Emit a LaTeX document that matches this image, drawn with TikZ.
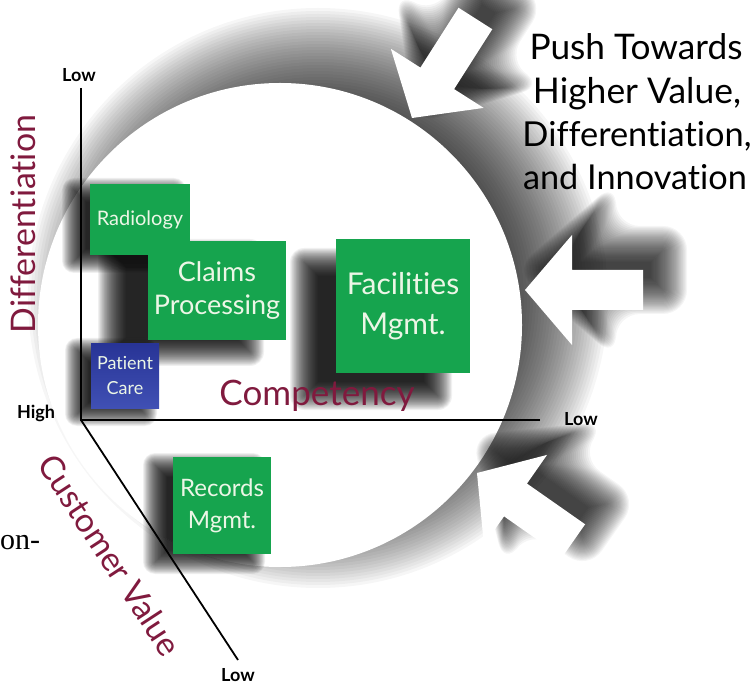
\documentclass[tikz,border=0pt]{standalone}
\usepackage{fontspec}
\setmainfont{Lato}[Ligatures=NoCommon]
\newfontfamily\bookserif{Liberation Serif}
\usepackage{graphicx}

\definecolor{boxgreen}{RGB}{22,164,78}
\definecolor{boxblue}{RGB}{64,80,180}
\definecolor{boxbluedark}{RGB}{40,52,150}
\definecolor{axisword}{RGB}{128,26,62}
\definecolor{boxtext}{RGB}{236,246,230}

% blurred shadows built from stacked, slightly grown copies of a shape
% rectangle: x1, y1, x2, y2, blur radius, opacity per layer
\newcommand\softrect[6]{%
  \foreach \k in {0,...,32}{%
    \pgfmathsetmacro\dd{#5*(\k/16-1)}%
    \fill[black, fill opacity=#6, rounded corners={max(\dd,0.1)}]
      ({#1-(\dd)},{#2-(\dd)}) rectangle ({#3+\dd},{#4+\dd});}}
% disc: centre x, centre y, radius, blur radius, opacity per layer
\newcommand\softdisc[5]{%
  \foreach \k in {0,...,32}{%
    \pgfmathsetmacro\dd{#4*(\k/16-1)}%
    \fill[black, fill opacity=#5] (#1,#2) circle ({#3+\dd});}}
% arrow outline (tip at origin, pointing left), grown by \dd
\newcommand\arrowgrown{%
  ({-1.31*\dd},0) -- ({47+\dd},{-55-1.4*\dd}) -- ({47+\dd},{-20-\dd})
  -- ({118+\dd},{-20-\dd}) -- ({118+\dd},{20+\dd}) -- ({47+\dd},{20+\dd})
  -- ({47+\dd},{55+1.4*\dd}) -- cycle}
\newcommand\softarrow[2]{% blur radius, opacity per layer
  \foreach \k in {0,...,32}{%
    \pgfmathsetmacro\dd{#1*(\k/32*1.5-0.5)}%
    \fill[black, fill opacity=#2, rounded corners={max(\dd,0.1)}] \arrowgrown;}}
% scale a word to a given width
\newcommand\fitw[2]{\resizebox{#1}{!}{#2}}

\tikzset{
  gbox/.style={fill=boxgreen, text=boxtext, align=center, inner sep=0pt},
  axlabel/.style={font=\bfseries\fontsize{18}{18}\selectfont, inner sep=0pt},
  axword/.style={text=axisword, inner sep=0pt},
  pushline/.style={inner sep=0pt, anchor=base},
}

\begin{document}
\begin{tikzpicture}[x=1pt, y=-1pt]
\useasboundingbox (0,0) rectangle (752,684);

% the big disc and its shadow
\coordinate (disc) at (280,325);
\softdisc{318}{298}{242}{48}{0.034}
\fill[white] (disc) circle (242);

% shadows of the three push arrows
\foreach \tx/\ty/\ang in {412/118/57.5, 525/290/0, 477/473/-35}{
  \begin{scope}[shift={(\tx+20,\ty-20)}, rotate=\ang]
    \softarrow{24}{0.038}
  \end{scope}
}
% the push arrows
\foreach \tx/\ty/\ang in {412/118/57.5, 525/290/0, 477/473/-35}{
  \begin{scope}[shift={(\tx,\ty)}, rotate=\ang]
    \fill[white] (0,0) -- (47,-55) -- (47,-20) -- (118,-20) -- (118,20) -- (47,20) -- (47,55) -- cycle;
  \end{scope}
}

% box shadows
\softrect{74}{190}{174}{261}{12}{0.05}
\softrect{112}{253}{250}{352}{14}{0.05}
\softrect{304}{262}{438}{396}{14}{0.05}
\softrect{77}{350}{145}{414}{12}{0.05}
\softrect{155}{465}{253}{562}{12}{0.05}

% axes
\coordinate (origin) at (81,420);
\coordinate (vtop) at (81,88);
\coordinate (hend) at (540,420);
\coordinate (dend) at (238,660);
\draw[line width=1.8pt] (vtop) -- (origin) -- (hend);
\draw[line width=1.8pt] (origin) -- (dend);

\node[axlabel] (lowtop) at (79,75) {Low};
\node[axlabel] (high) at (36,413) {High};
\node[axlabel] (lowright) at (581,419) {Low};
\node[axlabel] (lowbot) at (238,675) {Low};

% competencies
\node[gbox, minimum width=100pt, minimum height=71pt, font=\fontsize{20}{22}\selectfont] (radiology) at (140,219.5) {Radiology};
\node[gbox, minimum width=138pt, minimum height=99pt, font=\fontsize{27}{33}\selectfont] (claims) at (217,290.5) {Claims\\Processing};
\node[gbox, minimum width=134pt, minimum height=134pt, font=\fontsize{30}{40}\selectfont] (facilities) at (403,306) {Facilities\\Mgmt.};
\node[gbox, fill=none, top color=boxbluedark, bottom color=boxblue, minimum width=68pt, minimum height=64pt, font=\fontsize{18}{25}\selectfont] (patient) at (125,376) {Patient\\Care};
\node[gbox, minimum width=98pt, minimum height=97pt, font=\fontsize{24}{32}\selectfont] (records) at (222,505.5) {Records\\Mgmt.};

% axis names
\node[axword, rotate=90] (diff) at (23,224) {\fitw{218pt}{Differentiation}};
\node[axword] (comp) at (317,396) {\fitw{195pt}{Competency}};
\node[axword, rotate=-56.8] (cust) at (110,555) {\fitw{232pt}{Customer Value}};

% headline
\node[pushline] (push1) at (636,60) {\fitw{213pt}{Push Towards}};
\node[pushline] (push2) at (637,103.5) {\fitw{208pt}{Higher Value,}};
\node[pushline] (push3) at (637,147) {\fitw{229pt}{Differentiation,}};
\node[pushline] (push4) at (635,190) {\fitw{224pt}{and Innovation}};

% stray running text at the margin
\node[inner sep=0pt, anchor=base west, font=\bookserif\fontsize{30}{30}\selectfont] (frag) at (0,549) {on-};
\end{tikzpicture}
\end{document}
